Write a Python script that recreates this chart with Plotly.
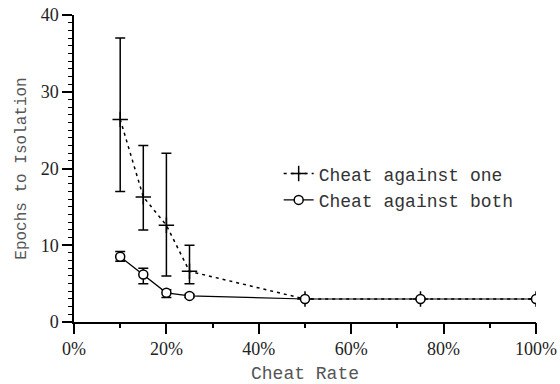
import plotly.graph_objects as go

cheat_rate = [10, 15, 20, 25, 50, 75, 100]

one_mean = [26.4, 16.3, 12.6, 6.6, 3.0, 3.0, 3.0]
one_hi = [37.0, 23.0, 22.0, 10.0, 3.0, 3.0, 3.0]
one_lo = [17.0, 12.0, 6.0, 5.0, 3.0, 3.0, 3.0]

both_mean = [8.5, 6.2, 3.8, 3.4, 3.0, 3.0, 3.0]
both_hi = [9.2, 7.0, 4.2, 3.6, 3.1, 3.1, 3.1]
both_lo = [7.9, 5.0, 3.2, 3.2, 2.9, 2.9, 2.9]

x_tick_step = 20   # tick labels 0%, 20%, ..., 100%
y_tick_step = 10   # tick labels 0, 10, 20, 30, 40

def plus(m, h):
    return [a - b for a, b in zip(h, m)]

def minus(m, l):
    return [a - b for a, b in zip(m, l)]

SERIF = "Liberation Serif"
MONO = "Liberation Mono"

fig = go.Figure()
fig.add_trace(go.Scatter(
    x=cheat_rate, y=one_mean, name="Cheat against one",
    mode="lines+markers",
    line=dict(color="black", width=1.5, dash="3px,4px"),
    marker=dict(symbol="cross-thin-open", size=11, color="black",
                line=dict(color="black", width=1.5)),
    error_y=dict(type="data", symmetric=False,
                 array=plus(one_mean, one_hi), arrayminus=minus(one_mean, one_lo),
                 color="black", thickness=1.5, width=5),
))
fig.add_trace(go.Scatter(
    x=cheat_rate, y=both_mean, name="Cheat against both",
    mode="lines+markers",
    line=dict(color="black", width=1.2),
    marker=dict(symbol="circle", size=9, color="white",
                line=dict(color="black", width=1.5)),
    error_y=dict(type="data", symmetric=False,
                 array=plus(both_mean, both_hi), arrayminus=minus(both_mean, both_lo),
                 color="black", thickness=1.5, width=5),
))
# invisible trace that anchors the minor-tick overlay axes
fig.add_trace(go.Scatter(
    x=cheat_rate, y=both_mean, xaxis="x2", yaxis="y2", mode="markers",
    marker=dict(opacity=0), showlegend=False, hoverinfo="skip",
))

fig.update_layout(
    template="none",
    width=560, height=384,
    margin=dict(l=74, r=24, t=15, b=62, autoexpand=False),
    paper_bgcolor="white", plot_bgcolor="white",
    showlegend=True,
    legend=dict(x=0.443, y=0.543, xanchor="left", yanchor="top",
                bgcolor="rgba(0,0,0,0)",
                font=dict(family=MONO, size=18, color="#333"),
                tracegroupgap=0),
    xaxis=dict(
        range=[0, 100], tick0=0, dtick=x_tick_step, ticksuffix="%", automargin=False,
        showline=True, linecolor="black", linewidth=1.5,
        ticks="outside", ticklen=10, tickwidth=1.5, tickcolor="black",
        showgrid=False, zeroline=False,
        tickfont=dict(family=SERIF, size=18, color="#222"),
        title=dict(text="Cheat Rate", font=dict(family=MONO, size=18, color="#555"),
                   standoff=12),
    ),
    yaxis=dict(
        range=[0, 40], tick0=0, dtick=y_tick_step, automargin=False,
        showline=True, linecolor="black", linewidth=1.5,
        ticks="outside", ticklen=10, tickwidth=1.5, tickcolor="black",
        showgrid=False, zeroline=False,
        tickfont=dict(family=SERIF, size=18, color="#222"),
        title=dict(text="Epochs to Isolation", font=dict(family=MONO, size=16, color="#555"),
                   standoff=10),
    ),
    xaxis2=dict(
        overlaying="x", anchor="y", side="bottom", range=[0, 100],
        tick0=0, dtick=10, ticks="outside", ticklen=5, tickwidth=1.5,
        tickcolor="black", showticklabels=False, showline=False,
        showgrid=False, zeroline=False, automargin=False,
    ),
    yaxis2=dict(
        overlaying="y", anchor="x", side="left", range=[0, 40],
        tick0=0, dtick=1, ticks="outside", ticklen=5, tickwidth=1.2,
        tickcolor="black", showticklabels=False, showline=False,
        showgrid=False, zeroline=False, automargin=False,
    ),
)

fig.write_html("out.html", config={"displayModeBar": False},
               post_script="document.body.style.margin='0';")
